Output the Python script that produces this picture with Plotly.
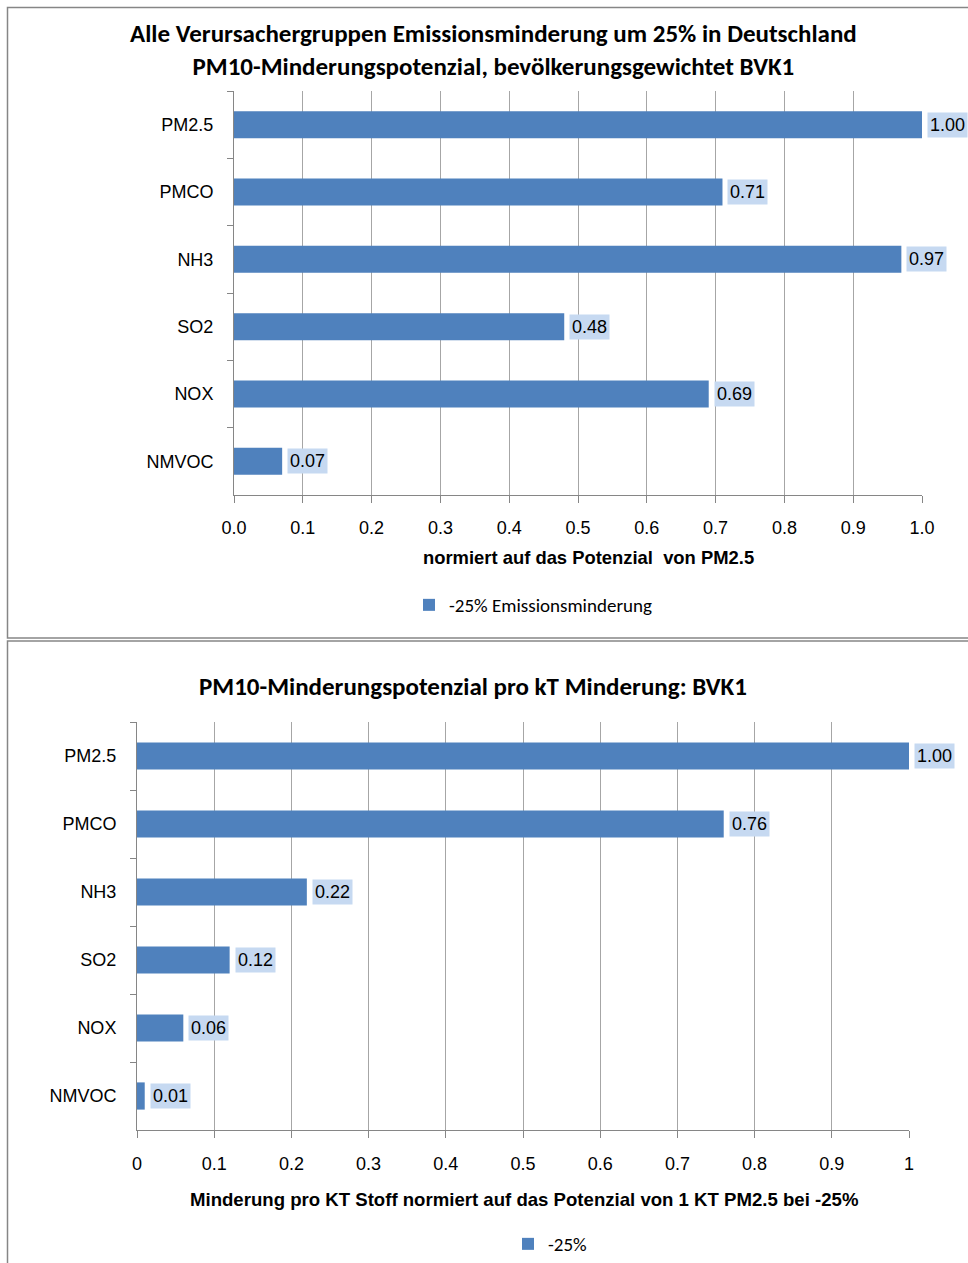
import plotly.graph_objects as go

# Pollutant categories, listed top to bottom
categories = ["PM2.5", "PMCO", "NH3", "SO2", "NOX", "NMVOC"]

# Upper chart: PM10 reduction potential of a 25% emission cut, normalised to PM2.5
potential_25 = [1.00, 0.71, 0.97, 0.48, 0.69, 0.07]
potential_labels = ["1.00", "0.71", "0.97", "0.48", "0.69", "0.07"]

# Lower chart: reduction potential per kT reduced, normalised to 1 kT PM2.5
per_kt = [1.00, 0.76, 0.22, 0.12, 0.06, 0.01]
per_kt_labels = ["1.00", "0.76", "0.22", "0.12", "0.06", "0.01"]

x_ticks = [0.0, 0.1, 0.2, 0.3, 0.4, 0.5, 0.6, 0.7, 0.8, 0.9, 1.0]
x_ticktext_top = ["0.0", "0.1", "0.2", "0.3", "0.4", "0.5", "0.6", "0.7", "0.8", "0.9", "1.0"]
x_ticktext_bottom = ["0", "0.1", "0.2", "0.3", "0.4", "0.5", "0.6", "0.7", "0.8", "0.9", "1"]

W, H = 968, 1263
BAR = "#4f81bd"
LABEL_BG = "#c6d9f1"
GRID = "#a6a6a6"
FRAME = "#868686"
TXT = "Liberation Sans, Arial, sans-serif"
HEAD = "Carlito, Lato, Liberation Sans, Arial, sans-serif"


def px(v):
    return v / W


def py(v):
    return 1 - v / H


fig = go.Figure()

fig.add_trace(go.Bar(
    x=potential_25, y=categories, orientation="h",
    marker=dict(color=BAR, line=dict(width=0)),
    name="-25% Emissionsminderung",
    xaxis="x", yaxis="y", legend="legend",
    hoverinfo="x+y",
))
fig.add_trace(go.Bar(
    x=per_kt, y=categories, orientation="h",
    marker=dict(color=BAR, line=dict(width=0)),
    name="-25%",
    xaxis="x2", yaxis="y2", legend="legend2",
    hoverinfo="x+y",
))

annotations = []
# value labels next to each bar
for xa, ya, vals, labs in (("x", "y", potential_25, potential_labels),
                           ("x2", "y2", per_kt, per_kt_labels)):
    for cat, v, lab in zip(categories, vals, labs):
        annotations.append(dict(
            x=v, y=cat, xref=xa, yref=ya, text=lab, showarrow=False,
            xanchor="left", yanchor="middle", xshift=5,
            bgcolor=LABEL_BG, borderpad=2,
            font=dict(family=TXT, size=18, color="#000000"),
        ))

# chart titles
annotations.append(dict(
    x=px(493), y=py(50), xref="paper", yref="paper", showarrow=False,
    text="<b>Alle Verursachergruppen Emissionsminderung um 25% in Deutschland</b><br>"
         "<b>PM10-Minderungspotenzial, bevölkerungsgewichtet BVK1</b>",
    font=dict(family=HEAD, size=25, color="#000000"), align="center",
    xanchor="center", yanchor="middle",
))
annotations.append(dict(
    x=px(473), y=py(686), xref="paper", yref="paper", showarrow=False,
    text="<b>PM10-Minderungspotenzial pro kT Minderung: BVK1</b>",
    font=dict(family=HEAD, size=25, color="#000000"),
    xanchor="center", yanchor="middle",
))

# axis titles
annotations.append(dict(
    x=px(588), y=py(558), xref="paper", yref="paper", showarrow=False,
    text="<b>normiert auf das Potenzial  von PM2.5</b>",
    font=dict(family=TXT, size=18.4, color="#000000"),
    xanchor="center", yanchor="middle",
))
annotations.append(dict(
    x=px(524), y=py(1199), xref="paper", yref="paper", showarrow=False,
    text="<b>Minderung pro KT Stoff normiert auf das Potenzial von 1 KT PM2.5 bei -25%</b>",
    font=dict(family=TXT, size=18.6, color="#000000"),
    xanchor="center", yanchor="middle",
))

axis_common = dict(
    range=[0, 1], tickvals=x_ticks, showgrid=True, gridcolor=GRID, gridwidth=1,
    showline=True, linecolor=FRAME, linewidth=1, ticks="outside", ticklen=7,
    tickcolor=FRAME, zeroline=False, fixedrange=True, automargin=False,
    tickfont=dict(family=TXT, size=18, color="#000000"),
)
yaxis_common = dict(
    type="category", categoryorder="array", categoryarray=categories,
    autorange="reversed", showgrid=False, showline=True, linecolor=FRAME,
    linewidth=1, ticks="outside", ticklen=6, tickcolor=FRAME,
    tickson="boundaries", fixedrange=True, automargin=False,
    tickfont=dict(family=TXT, size=18, color="#000000"),
)

fig.update_layout(
    width=W, height=H, margin=dict(l=0, r=0, t=0, b=0),
    paper_bgcolor="#ffffff", plot_bgcolor="#ffffff",
    bargap=0.6, showlegend=True,
    xaxis=dict(axis_common, domain=[px(234), px(922)], anchor="y",
               ticktext=x_ticktext_top, ticklabelstandoff=9),
    yaxis=dict(yaxis_common, domain=[py(495), py(91)], anchor="x",
               ticklabelstandoff=16),
    xaxis2=dict(axis_common, domain=[px(137), px(909)], anchor="y2",
                ticktext=x_ticktext_bottom, ticklabelstandoff=10),
    yaxis2=dict(yaxis_common, domain=[py(1130), py(722)], anchor="x2",
                ticklabelstandoff=16),
    legend=dict(x=px(409), y=py(605), xanchor="left", yanchor="middle",
                orientation="h", bgcolor="rgba(0,0,0,0)",
                font=dict(family=HEAD, size=19, color="#000000")),
    legend2=dict(x=px(508), y=0, xanchor="left", yanchor="bottom",
                 orientation="h", bgcolor="rgba(0,0,0,0)",
                 font=dict(family=HEAD, size=19, color="#000000")),
    annotations=annotations,
    shapes=[
        # chart frames
        dict(type="rect", xref="paper", yref="paper",
             x0=px(7.5), x1=px(990), y0=py(638), y1=py(7.5),
             line=dict(color=FRAME, width=1.5), fillcolor="rgba(0,0,0,0)", layer="below"),
        dict(type="rect", xref="paper", yref="paper",
             x0=px(7.5), x1=px(990), y0=py(1290), y1=py(641),
             line=dict(color=FRAME, width=1.5), fillcolor="rgba(0,0,0,0)", layer="below"),
    ],
)

# place the figure flush with the page corner
fig.write_html("out.html", post_script="document.body.style.margin='0';")
